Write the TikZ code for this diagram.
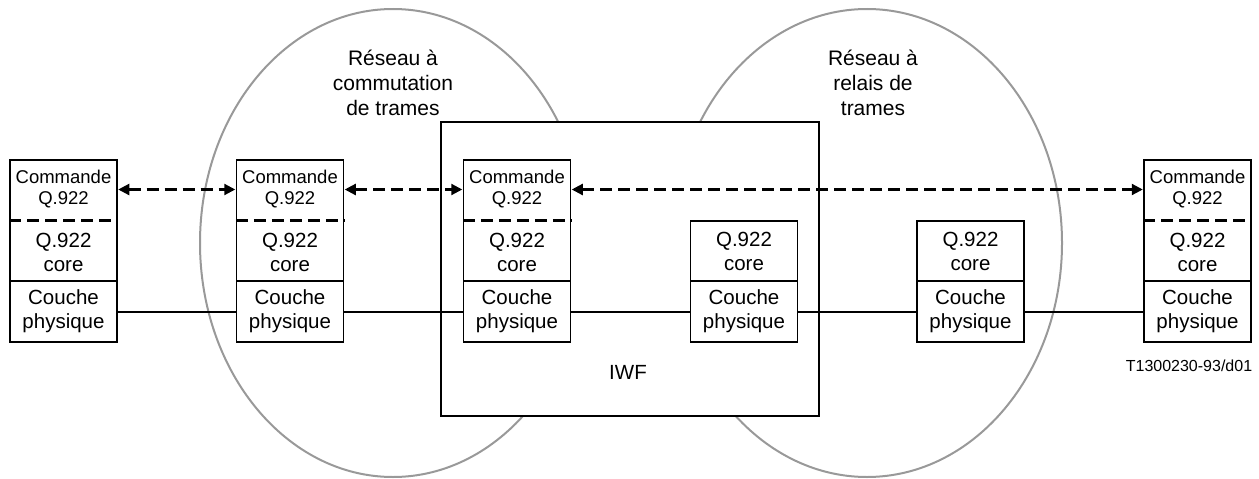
\documentclass[tikz,border=0pt]{standalone}
\usepackage{fontspec}
\setmainfont{Liberation Sans}
\usetikzlibrary{arrows.meta}
\begin{document}
\begin{tikzpicture}[x=1pt,y=-1pt,
  net/.style={draw=black!40, line width=2pt},
  iwfbox/.style={draw, fill=white, line width=1.3pt},
  upper/.style={draw, fill=white, line width=1.5pt, minimum width=107pt, minimum height=121pt, inner sep=0pt},
  lower/.style={draw, fill=white, line width=1.5pt, minimum width=107pt, minimum height=61pt, inner sep=0pt, align=center, font=\fontsize{20.5}{24}\selectfont},
  coretxt/.style={align=center, inner sep=0pt, font=\fontsize{20.5}{24}\selectfont},
  cmdtxt/.style={align=center, inner sep=0pt, font=\fontsize{18.5}{21}\selectfont},
  sep/.style={line width=2.2pt, dash pattern=on 12pt off 6pt},
  peer/.style={line width=2.2pt, dash pattern=on 12pt off 6pt, {Triangle[length=11pt,width=11pt]}-{Triangle[length=11pt,width=11pt]}, shorten <=0.5pt, shorten >=0.5pt},
  wire/.style={line width=2pt},
  lbl/.style={align=center, inner sep=0pt, font=\fontsize{21}{25}\selectfont}
]
\useasboundingbox (0,0) rectangle (1259,479);
% networks
\draw[net] (393,243) ellipse [x radius=193, y radius=234];
\draw[net] (867,243) ellipse [x radius=195, y radius=234];
\node[lbl] (lab1) at (393,83) {Réseau à\\commutation\\de trames};
\node[lbl] (lab2) at (873,83) {Réseau à\\relais de\\trames};
% IWF
\node[iwfbox, minimum width=378pt, minimum height=294pt, inner sep=0pt] (iwf) at (630,269) {};
\node[font=\fontsize{20.5}{24}\selectfont, inner sep=0pt] (iwflbl) at (628,372) {IWF};
% full stacks
\foreach \n/\x in {A/63.5, B/290, C/517, F/1197.5}{
  \node[upper] (\n12) at (\x,220.5) {};
  \draw[sep] (\n12.west) -- (\n12.east);
  \node[cmdtxt] (\n1) at (\x,189.5) {Commande\\Q.922};
  \node[coretxt] (\n2) at (\x,252) {Q.922\\core};
  \node[lower] (\n3) at (\x,311.5) {Couche\\physique};
}
% relay stacks
\foreach \n/\x in {D/744, E/970.5}{
  \node[lower, minimum height=60pt] (\n2) at (\x,251) {Q.922\\core};
  \node[lower] (\n3) at (\x,311.5) {Couche\\physique};
}
% peer arrows
\draw[peer] (A1.east -| A12.east) -- (B1.west -| B12.west);
\draw[peer] (B1.east -| B12.east) -- (C1.west -| C12.west);
\draw[peer] (C1.east -| C12.east) -- (F1.west -| F12.west);
% physical links
\draw[wire] (A3.east) -- (B3.west);
\draw[wire] (B3.east) -- (C3.west);
\draw[wire] (C3.east) -- (D3.west);
\draw[wire] (D3.east) -- (E3.west);
\draw[wire] (E3.east) -- (F3.west);
\node[font=\fontsize{16}{19}\selectfont, inner sep=0pt] (ref) at (1189,366) {T1300230-93/d01};
\end{tikzpicture}
\end{document}
